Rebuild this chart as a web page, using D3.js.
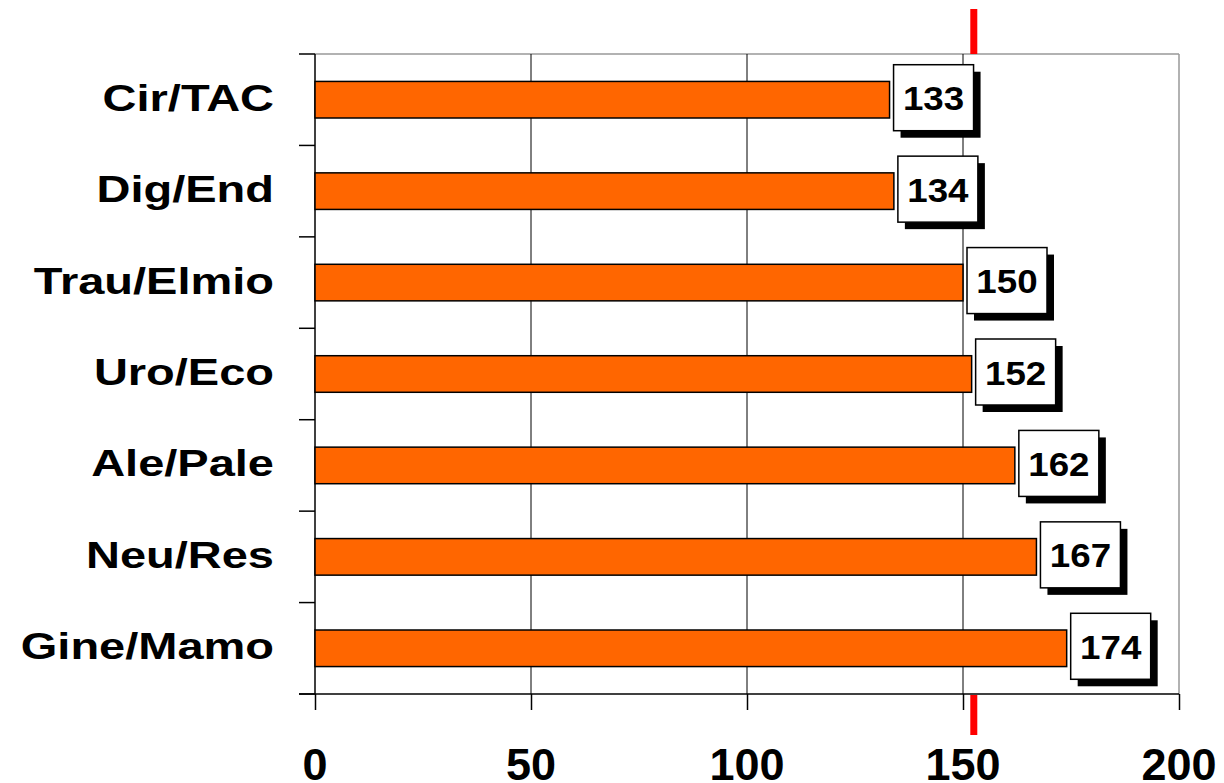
<!DOCTYPE html>
<html>
<head>
<meta charset="utf-8">
<script src="https://cdn.jsdelivr.net/npm/d3@7"></script>
<style>
  html, body { margin: 0; padding: 0; background: #fff; }
  svg { display: block; font-family: Arial, "Liberation Sans", sans-serif; font-weight: bold; }
</style>
</head>
<body>
<svg id="chart" width="1224" height="783"></svg>
<script>
// Categories, top to bottom
const categories = ["Cir/TAC", "Dig/End", "Trau/Elmio", "Uro/Eco", "Ale/Pale", "Neu/Res", "Gine/Mamo"];
// Value per category
const values = [133, 134, 150, 152, 162, 167, 174];
// X axis ticks
const xTicks = [0, 50, 100, 150, 200];
// Reference marker value
const referenceValue = 152.5;

const data = categories.map((c, i) => ({ cat: c, val: values[i] }));

const svg = d3.select("#chart");
const plotLeft = 315, plotRight = 1179, plotTop = 54, plotBottom = 694;

const x = d3.scaleLinear().domain([0, 200]).range([plotLeft, plotRight]);
const y = d3.scaleBand().domain(categories).range([plotTop, plotBottom])
  .paddingInner(0.6).paddingOuter(0.3);
const step = y.step();

// Frame: grey top and right borders
svg.append("line").attr("x1", plotLeft).attr("x2", plotRight).attr("y1", plotTop).attr("y2", plotTop)
  .attr("stroke", "#999").attr("stroke-width", 1.5);
svg.append("line").attr("x1", plotRight).attr("x2", plotRight).attr("y1", plotTop).attr("y2", plotBottom)
  .attr("stroke", "#999").attr("stroke-width", 1.5);

// Vertical gridlines
svg.append("g").selectAll("line").data(xTicks.filter(t => t > 0 && t < 200)).join("line")
  .attr("x1", d => x(d)).attr("x2", d => x(d))
  .attr("y1", plotTop).attr("y2", plotBottom)
  .attr("stroke", "#000").attr("stroke-width", 1);

// X axis with long downward ticks and no labels (labels drawn separately)
const xAxis = svg.append("g").attr("transform", `translate(0,${plotBottom})`)
  .call(d3.axisBottom(x).tickValues(xTicks).tickSize(16).tickFormat(""));
xAxis.select(".domain").attr("stroke", "#000").attr("stroke-width", 1.5)
  .attr("d", `M${plotLeft - 16},0H${plotRight}`);
xAxis.selectAll(".tick line").attr("stroke", "#000").attr("stroke-width", 1.5);

// Y axis line and category boundary ticks
svg.append("line").attr("x1", plotLeft).attr("x2", plotLeft).attr("y1", plotTop).attr("y2", plotBottom)
  .attr("stroke", "#000").attr("stroke-width", 1.5);
const boundaries = d3.range(categories.length + 1).map(i => plotTop + i * step);
svg.append("g").selectAll("line").data(boundaries).join("line")
  .attr("x1", plotLeft - 16).attr("x2", plotLeft)
  .attr("y1", d => d).attr("y2", d => d)
  .attr("stroke", "#000").attr("stroke-width", 1.5);

// Bars
svg.append("g").selectAll("rect").data(data).join("rect")
  .attr("x", x(0))
  .attr("y", d => y(d.cat))
  .attr("width", d => x(d.val) - x(0))
  .attr("height", y.bandwidth())
  .attr("fill", "#ff6600")
  .attr("stroke", "#000").attr("stroke-width", 1.5);

// Value label boxes with drop shadow
const boxW = 80, boxH = 66;
const labels = svg.append("g").selectAll("g").data(data).join("g")
  .attr("transform", d => `translate(${x(d.val) + 4},${y(d.cat) + y.bandwidth() / 2 - 2 - boxH / 2})`);
labels.append("rect").attr("x", 7).attr("y", 7).attr("width", boxW).attr("height", boxH)
  .attr("fill", "#000");
labels.append("rect").attr("x", 0).attr("y", 0).attr("width", boxW).attr("height", boxH)
  .attr("fill", "#fff").attr("stroke", "#000").attr("stroke-width", 1.5);
labels.append("text")
  .attr("transform", `translate(${boxW / 2},${boxH / 2 + 12.5}) scale(1.08,1)`)
  .attr("text-anchor", "middle")
  .attr("font-size", 34)
  .text(d => d.val);

// Category labels (wide bold lettering)
svg.append("g").selectAll("text").data(categories).join("text")
  .attr("transform", d => `translate(274,${y(d) + y.bandwidth() / 2 + 11}) scale(1.27,1)`)
  .attr("text-anchor", "end")
  .attr("font-size", 37)
  .text(d => d);

// X tick labels
svg.append("g").selectAll("text").data(xTicks).join("text")
  .attr("x", d => x(d)).attr("y", 780)
  .attr("text-anchor", "middle")
  .attr("font-size", 45)
  .text(d => d);

// Red reference marker outside the plot, above and below
const rx = x(referenceValue);
svg.append("line").attr("x1", rx).attr("x2", rx).attr("y1", 9).attr("y2", plotTop)
  .attr("stroke", "#ff0000").attr("stroke-width", 7);
svg.append("line").attr("x1", rx).attr("x2", rx).attr("y1", plotBottom + 1).attr("y2", 735)
  .attr("stroke", "#ff0000").attr("stroke-width", 7);
</script>
</body>
</html>
